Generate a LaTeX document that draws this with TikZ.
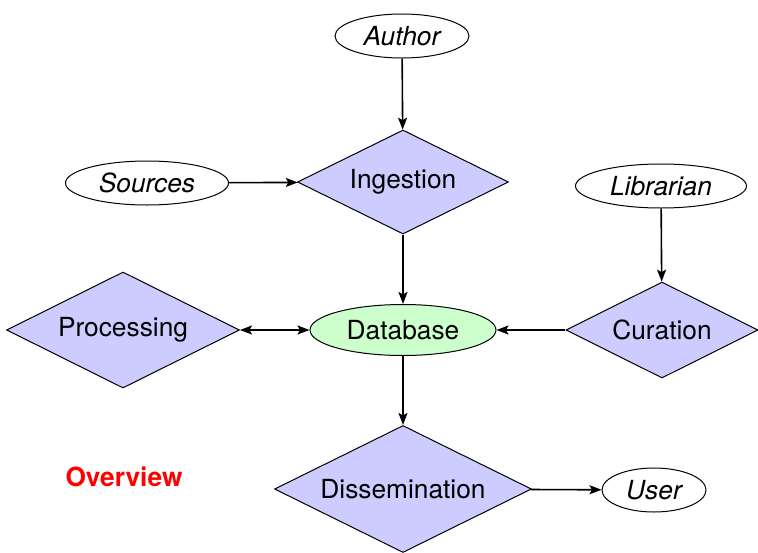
\documentclass[tikz,border=0pt]{standalone}
\usepackage{fontspec}
\setmainfont{TeX Gyre Heros}
\usetikzlibrary{shapes.geometric,arrows.meta}
\begin{document}
\begin{tikzpicture}[x=1pt,y=-1pt,
  every node/.style={font=\fontsize{26.3}{31}\selectfont},
  proc/.style={diamond,shape aspect=2,draw=black,line width=1pt,fill=blue!20,inner sep=0pt},
  actor/.style={ellipse,draw=black,line width=1pt,fill=white,inner sep=0pt,font=\fontsize{26.3}{31}\selectfont\itshape},
  store/.style={ellipse,draw=black,line width=1pt,fill=green!20,inner sep=0pt},
  conn/.style={line width=1.6pt,-{Stealth[length=12pt,width=9pt,inset=2.5pt]}},
  bconn/.style={line width=1.6pt,{Stealth[length=12pt,width=9pt,inset=2.5pt]}-{Stealth[length=12pt,width=9pt,inset=2.5pt]}}
]
\useasboundingbox (0,0) rectangle (758,552);
\node[actor,minimum width=134pt,minimum height=44pt] (author) at (402,36) {Author};
\node[proc,minimum width=211pt,minimum height=104pt] (ing) at (403,182) {Ingestion};
\node[actor,minimum width=163pt,minimum height=44pt] (src) at (147,183) {Sources};
\node[actor,minimum width=171pt,minimum height=44pt] (lib) at (661,186) {Librarian};
\node[proc,minimum width=192pt,minimum height=96pt] (cur) at (662,330) {Curation};
\node[store,minimum width=186pt,minimum height=51pt] (db) at (403,330) {Database};
\node[proc,minimum width=233pt,minimum height=116pt] (proc) at (123,330) {Processing};
\node[proc,minimum width=257pt,minimum height=127pt] (dis) at (403,489) {Dissemination};
\node[actor,minimum width=104pt,minimum height=44pt] (user) at (654,490) {User};
\node[text=red,font=\fontsize{26.3}{31}\selectfont\bfseries] (ov) at (124,477) {Overview};
\draw[conn] (author) -- (ing);
\draw[conn] (src) -- (ing);
\draw[conn] (ing) -- (db);
\draw[conn] (lib) -- (cur);
\draw[conn] (cur) -- (db);
\draw[bconn] (proc) -- (db);
\draw[conn] (db) -- (dis);
\draw[conn] (dis) -- (user);
\end{tikzpicture}
\end{document}
